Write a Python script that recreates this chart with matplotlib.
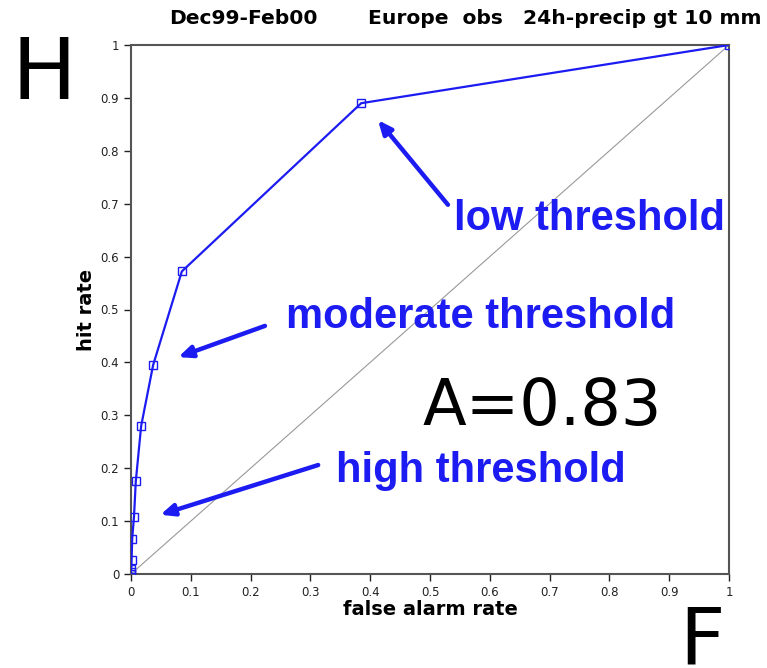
import numpy as np
import matplotlib
matplotlib.use("Agg")
import matplotlib.pyplot as plt

# ROC points (false alarm rate, hit rate)
far = [0.0, 0.0, 0.0005, 0.001, 0.002, 0.005, 0.008, 0.017, 0.037, 0.085, 0.385, 1.0]
hit = [0.0, 0.003, 0.01, 0.027, 0.067, 0.108, 0.175, 0.28, 0.395, 0.572, 0.89, 1.0]
ticks = [0, 0.1, 0.2, 0.3, 0.4, 0.5, 0.6, 0.7, 0.8, 0.9, 1]
tick_labels = ["0", "0.1", "0.2", "0.3", "0.4", "0.5", "0.6", "0.7", "0.8", "0.9", "1"]

# annotations: label, text pos, arrow tail, arrow tip
notes = [
    ("low threshold", (0.540, 0.672), (0.530, 0.698), (0.413, 0.858)),
    ("moderate threshold", (0.259, 0.485), (0.224, 0.469), (0.079, 0.410)),
    ("high threshold", (0.342, 0.194), (0.313, 0.206), (0.049, 0.112)),
]
title_parts = [("Dec99-Feb00", 169), ("Europe  obs", 368), ("24h-precip gt 10 mm", 523)]

BLUE = "#1c1cf2"
plt.rcParams["font.family"] = ["DejaVu Sans"]

W, H = 767, 668
fig = plt.figure(figsize=(W / 100, H / 100), dpi=100)
ax = fig.add_axes([131 / W, 1 - 574 / H, 598 / W, 529 / H])

ax.plot([0, 1], [0, 1], color="#999999", lw=0.8, zorder=1)
ax.plot(far, hit, color=BLUE, lw=1.6, marker="s", ms=5.5, mfc="none",
        mec=BLUE, mew=1.0, zorder=3)

for label, tpos, tail, tip in notes:
    ax.text(tpos[0], tpos[1], label, color=BLUE, fontsize=30, fontweight="bold",
            family="Liberation Sans", va="center", ha="left")
    ax.annotate("", xy=tip, xytext=tail,
                arrowprops=dict(arrowstyle="-|>,head_length=0.8,head_width=0.35",
                                color=BLUE, lw=3.2, shrinkA=0, shrinkB=0))

ax.text(0.488, 0.316, "A=0.83", fontsize=46, va="center", ha="left", color="black")

ax.set_xlim(0, 1)
ax.set_ylim(0, 1)
ax.set_xticks(ticks)
ax.set_xticklabels(tick_labels)
ax.set_yticks(ticks)
ax.set_yticklabels(tick_labels)
ax.tick_params(direction="out", length=5, width=1, labelsize=8.5, colors="#222222")
for s in ax.spines.values():
    s.set_color("#555555")
    s.set_linewidth(1.5)

ax.set_xlabel("false alarm rate", fontsize=14, fontweight="bold", labelpad=1)
ax.set_ylabel("hit rate", fontsize=14, fontweight="bold", labelpad=3)
for txt, px in title_parts:
    fig.text(px / W, 1 - 18 / H, txt, fontsize=14.6, fontweight="bold",
             ha="left", va="center")

fig.text(12 / W, 1 - 99 / H, "H", fontsize=62, va="baseline", ha="left")
fig.text(679 / W, 1 - 663 / H, "F", fontsize=57, va="baseline", ha="left")

fig.savefig("out.png", dpi=100)
